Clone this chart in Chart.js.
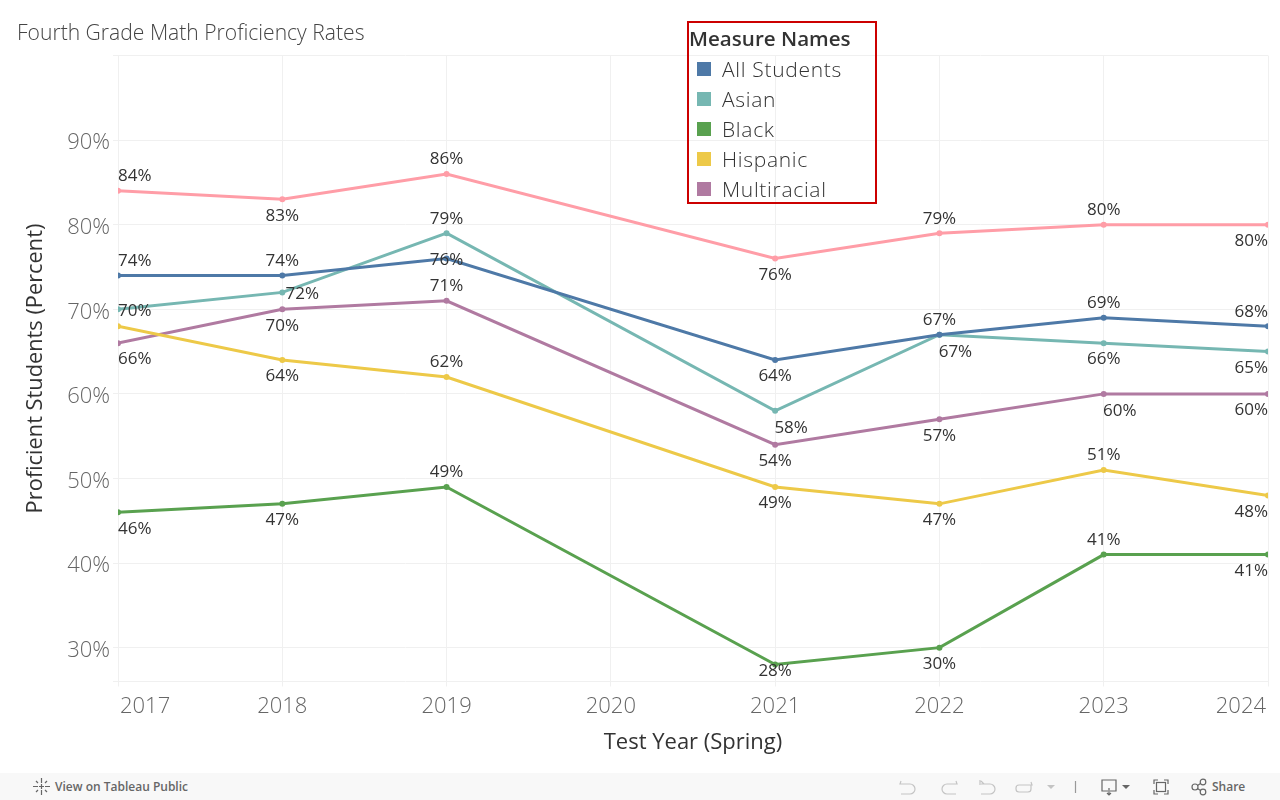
<!DOCTYPE html>
<html>
<head>
<meta charset="utf-8">
<title>Fourth Grade Math Proficiency Rates</title>
<script src="https://cdn.jsdelivr.net/npm/chart.js@4"></script>
<style>
    html, body { margin: 0; padding: 0; background: #fff; width: 1280px; height: 800px; overflow: hidden; font-family: "Open Sans", sans-serif; }
    #wrap { position: absolute; left: 0; top: 0; width: 1280px; height: 800px; }
    #legend { position: absolute; left: 687px; top: 21px; width: 186px; height: 179px; border: 2px solid #cc0000; }
    #legend .head { position: absolute; left: 0; top: 2px; font-size: 20.6px; line-height: 26px; font-weight: 600; color: #333; white-space: nowrap; }
    #legend .row { position: absolute; left: 33px; font-size: 21px; line-height: 26px; font-weight: 300; color: #333; letter-spacing: 0.7px; white-space: nowrap; }
    #legend .swatch { position: absolute; left: 8px; width: 14px; height: 14px; }
    #toolbar { position: absolute; left: 0; top: 773px; width: 1280px; height: 27px; background: #f8f8f8; color: #666; font-size: 12px; font-weight: 600; }
    #toolbar span { position: absolute; top: 6px; line-height: 16px; }
    #toolbar svg { position: absolute; left: 0; top: 0; }
</style>
</head>
<body>
<div id="wrap">
    <canvas id="chart" width="1280" height="800"></canvas>
    <div id="legend"></div>
    <div id="toolbar">
        <svg width="1280" height="27" fill="none" stroke-width="1.2">
            <g stroke="#666">
                <path d="M41.5 5v5M41.5 17v5M33 13.500h5M45 13.500h5M36 8l2 2M45 17l2 2M47 8l-2 2M38 17l-2 2M41.500 11v5M39 13.500h5"/>
            </g>
            <g stroke="#c4c4c4">
                <path d="M901 8l-1 3 4 0M901 11h9a5 5 0 0 1 5 5v0a5 5 0 0 1-5 5h-9"/>
                <path d="M956 8l1 3-4 0M956 11h-9a5 5 0 0 0-5 5v0a5 5 0 0 0 5 5h9"/>
                <path d="M980 7v5M981 8l3 3-0 0M981 11h9a5 5 0 0 1 5 5v0a5 5 0 0 1-5 5h-9"/>
                <path d="M1031 9l1 3-4 0M1030 12h-11a3 3 0 0 0-3 3v1a3 3 0 0 0 3 3h9a3 3 0 0 0 3-3v-4"/>
                <path d="M1075.500 8v12" stroke="#999"/>
            </g>
            <path d="M1047 12h8l-4 4z" fill="#c4c4c4"/>
            <g stroke="#666">
                <path d="M1108 18h-6v-11h14v11h-6M1109 15v7M1107 20l2 2 2-2"/>
                <path d="M1154 11v-4h4M1164 7h4v4M1168 17v4h-4M1158 21h-4v-4"/>
                <rect x="1156.500" y="9.500" width="9" height="9"/>
                <circle cx="1195" cy="14" r="3"/>
                <circle cx="1203" cy="9" r="2.800"/>
                <circle cx="1203" cy="19" r="2.800"/>
                <path d="M1197.500 12.500l3-2M1197.500 15.500l3 2"/>
            </g>
            <path d="M1122 12h8l-4 4z" fill="#666"/>
        </svg>
        <span style="left:55px">View on Tableau Public</span>
        <span style="left:1212px">Share</span>
    </div>
</div>
<script>
    const years = ['2017', '2018', '2019', '2020', '2021', '2022', '2023', '2024'];
    const yTicks = [26, 30, 40, 50, 60, 70, 80, 90, 100];

    // no test in spring 2020, the lines just run across that year
    const allStudents = [74, 74, 76, null, 64, 67, 69, 68];
    const asian = [70, 72, 79, null, 58, 67, 66, 65];
    const black = [46, 47, 49, null, 28, 30, 41, 41];
    const hispanic = [68, 64, 62, null, 49, 47, 51, 48];
    const multiracial = [66, 70, 71, null, 54, 57, 60, 60];
    const white = [84, 83, 86, null, 76, 79, 80, 80];

    const legendNames = ['All Students', 'Asian', 'Black', 'Hispanic', 'Multiracial'];

    // where each value label sits: a above, b below, c on the point, r right, s below right, n just under, - none
    const allStudentsLabels = ['a', 'a', 'c', '-', 'b', 'a', 'a', 'a'];
    const asianLabels = ['c', 'r', 'a', '-', 's', 's', 'b', 'b'];
    const blackLabels = ['b', 'b', 'a', '-', 'n', 'b', 'a', 'b'];
    const hispanicLabels = ['-', 'b', 'a', '-', 'b', 'b', 'a', 'b'];
    const multiracialLabels = ['b', 'b', 'a', '-', 'b', 'b', 's', 'b'];
    const whiteLabels = ['a', 'b', 'a', '-', 'b', 'a', 'a', 'b'];

    const colors = ['#4e79a7', '#76b7b2', '#59a14f', '#edc948', '#b07aa1', '#ff9da7'];
    const gridColor = '#f0f0f0';

    function makeSeries(name, values, color, places) {
        return {
            label: name,
            data: values,
            places: places,
            borderColor: color,
            backgroundColor: color,
            borderWidth: 3,
            pointRadius: 3,
            pointHoverRadius: 3,
            pointBorderWidth: 0,
            tension: 0,
            spanGaps: true,
            clip: 0
        };
    }

    // Value labels
    const labelOffsets = {
        a: [0, -14.5], b: [0, 16.5], c: [0, 2], r: [20, 2], s: [16, 17], n: [0, 6.5]
    };
    const valueLabels = {
        id: 'valueLabels',
        afterDatasetsDraw(chart) {
            const ctx = chart.ctx;
            const area = chart.chartArea;
            ctx.save();
            ctx.font = '17px "Open Sans", sans-serif';
            ctx.fillStyle = '#333';
            ctx.textBaseline = 'middle';
            ctx.textAlign = 'center';
            chart.data.datasets.forEach(ds => {
                ds.data.forEach((v, i) => {
                    const off = labelOffsets[ds.places[i]];
                    if (v === null || !off) return;
                    let x = chart.scales.x.getPixelForValue(i) + off[0];
                    const y = chart.scales.y.getPixelForValue(v) + off[1];
                    const text = v + '%';
                    const w = ctx.measureText(text).width;
                    // keep the edge labels inside the plot
                    x = Math.max(area.left + w / 2, Math.min(area.right - w / 2, x));
                    ctx.fillText(text, x, y);
                });
            });
            ctx.restore();
        }
    };

    // Nudge the tick labels a little, the first and last year sit just inside the plot edge
    const tickNudge = {
        id: 'tickNudge',
        beforeDraw(chart) {
            const xItems = chart.scales.x.getLabelItems();
            xItems[0].options.translation[0] += 2;
            xItems[xItems.length - 1].options.translation[0] -= 2;
            chart.scales.y.getLabelItems().forEach(item => {
                item.options.translation[1] += 3;
            });
        }
    };

    new Chart(document.getElementById('chart').getContext('2d'), {
        type: 'line',
        data: {
            labels: years,
            datasets: [
                makeSeries('All Students', allStudents, colors[0], allStudentsLabels),
                makeSeries('Asian', asian, colors[1], asianLabels),
                makeSeries('Black', black, colors[2], blackLabels),
                makeSeries('Hispanic', hispanic, colors[3], hispanicLabels),
                makeSeries('Multiracial', multiracial, colors[4], multiracialLabels),
                makeSeries('White', white, colors[5], whiteLabels)
            ]
        },
        options: {
            responsive: false,
            animation: false,
            events: [],
            layout: { padding: { left: 17, right: 12, top: 0, bottom: 0 } },
            plugins: {
                legend: { display: false },
                tooltip: { enabled: false },
                title: {
                    display: true,
                    text: 'Fourth Grade Math Proficiency Rates',
                    align: 'start',
                    color: '#444',
                    font: { family: 'Open Sans', size: 21.1, weight: 300 },
                    padding: { top: 21, bottom: 9.2 }
                }
            },
            scales: {
                x: {
                    type: 'category',
                    offset: false,
                    afterFit(scale) { scale.height = 118.5; },
                    border: { display: false },
                    grid: { color: gridColor, tickLength: 5, drawTicks: true },
                    ticks: {
                        color: '#666',
                        align: 'inner',
                        padding: 7,
                        maxRotation: 0,
                        autoSkip: false,
                        font: { family: 'Open Sans', size: 22, weight: 300 }
                    },
                    title: {
                        display: true,
                        text: 'Test Year (Spring)',
                        color: '#333',
                        font: { family: 'Open Sans', size: 22, weight: 400 },
                        padding: { top: 0, bottom: 44 }
                    }
                },
                y: {
                    min: 26,
                    max: 100,
                    afterFit(scale) { scale.width = 101; },
                    afterBuildTicks(scale) { scale.ticks = yTicks.map(v => ({ value: v })); },
                    border: { display: false },
                    grid: { color: gridColor, tickLength: 5 },
                    ticks: {
                        color: '#666',
                        padding: 3,
                        font: { family: 'Open Sans', size: 22, weight: 300 },
                        callback: v => (v === 26 || v === 100) ? '' : v + '%'
                    },
                    title: {
                        display: true,
                        text: 'Proficient Students (Percent)',
                        color: '#333',
                        font: { family: 'Open Sans', size: 21.8, weight: 400 },
                        padding: { top: 6, bottom: 0 }
                    }
                }
            }
        },
        plugins: [tickNudge, valueLabels]
    });

    // Legend box, only the first five series fit in it
    const legend = document.getElementById('legend');
    legend.innerHTML = '<div class="head">Measure Names</div>';
    legendNames.forEach((name, i) => {
        const swatch = document.createElement('div');
        swatch.className = 'swatch';
        swatch.style.top = (39 + i * 30) + 'px';
        swatch.style.background = colors[i];
        legend.appendChild(swatch);
        const row = document.createElement('div');
        row.className = 'row';
        row.style.top = (33 + i * 30) + 'px';
        row.textContent = name;
        legend.appendChild(row);
    });
</script>
</body>
</html>
